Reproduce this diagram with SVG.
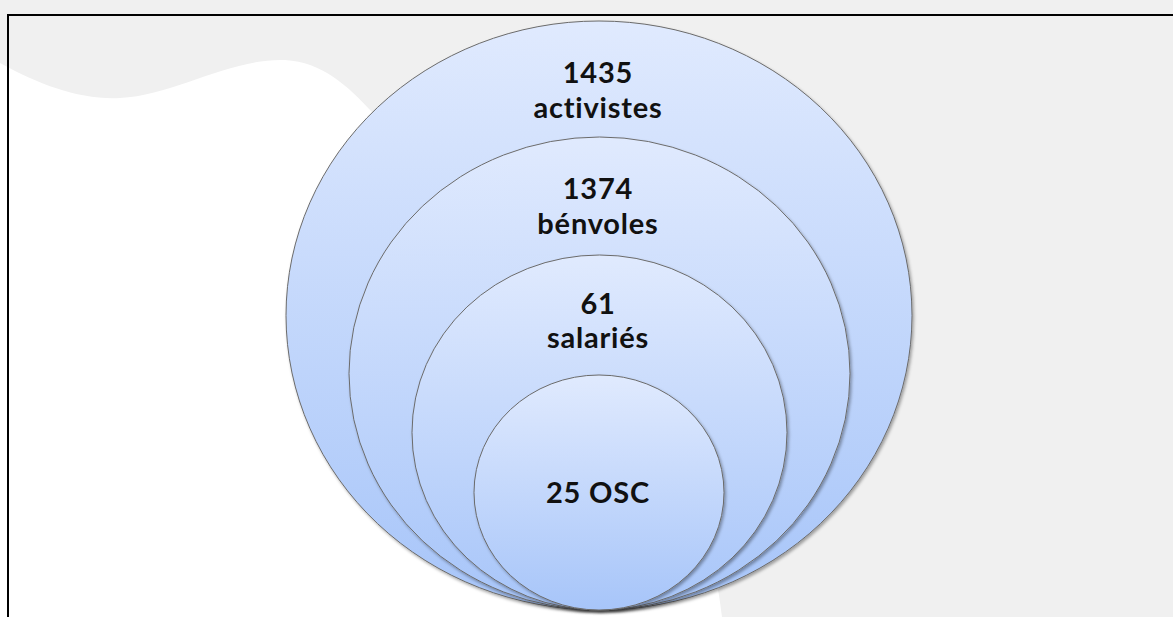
<svg xmlns="http://www.w3.org/2000/svg" width="1173" height="617" viewBox="0 0 1173 617">
  <defs>
    <linearGradient id="fillGrad" x1="0" y1="0" x2="0" y2="1">
      <stop offset="0" stop-color="#e0eafe"/>
      <stop offset="1" stop-color="#a7c5f9"/>
    </linearGradient>
    <filter id="shadow" x="-10%" y="-10%" width="120%" height="120%">
      <feDropShadow dx="1.5" dy="2" stdDeviation="1.5" flood-color="#000" flood-opacity="0.35"/>
    </filter>
    <style>
      .ring { fill: url(#fillGrad); stroke: #6b6b6b; stroke-width: 1; filter: url(#shadow); }
      .lbl { font-family: Lato, "Open Sans", "Liberation Sans", sans-serif; font-weight: bold; font-size: 29px; letter-spacing: 0.8px; fill: #111; text-anchor: middle; }
    </style>
  </defs>
  <rect x="0" y="0" width="1173" height="617" fill="#f0f0f0"/>
  <path d="M0,63 C40,85 80,100 120,98 C175,95 230,58 285,60 C322,62 348,86 372,112 L600,350 L716,582 C719,592 720,602 722,617 L0,617 Z" fill="#ffffff"/>
  <rect x="8" y="15" width="1200" height="700" fill="none" stroke="#000" stroke-width="2"/>
  <g id="activistes">
    <ellipse class="ring" cx="599" cy="315.5" rx="313" ry="294.5"/>
    <text class="lbl" x="598" y="83">1435</text>
    <text class="lbl" x="598" y="118">activistes</text>
  </g>
  <g id="benvoles">
    <ellipse class="ring" cx="599.5" cy="373.5" rx="250.5" ry="236.5"/>
    <text class="lbl" x="598" y="199">1374</text>
    <text class="lbl" x="598" y="234">bénvoles</text>
  </g>
  <g id="salaries">
    <ellipse class="ring" cx="599.5" cy="432.5" rx="187.5" ry="177.5"/>
    <text class="lbl" x="598" y="314">61</text>
    <text class="lbl" x="598" y="348">salariés</text>
  </g>
  <g id="osc">
    <ellipse class="ring" cx="599" cy="492.5" rx="125" ry="117.5"/>
    <text class="lbl" x="598" y="503">25 OSC</text>
  </g>
</svg>
